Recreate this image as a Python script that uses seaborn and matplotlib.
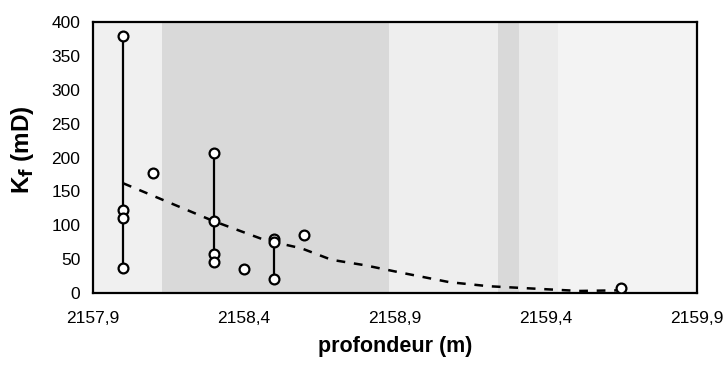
import numpy as np
import pandas as pd
import matplotlib
matplotlib.use("Agg")
import matplotlib.pyplot as plt
import seaborn as sns

# --- data ---
depth = [2158.0, 2158.0, 2158.0, 2158.0, 2158.1,
         2158.3, 2158.3, 2158.3, 2158.3, 2158.4,
         2158.5, 2158.5, 2158.5, 2158.6, 2159.65]
kf = [380, 122, 110, 37, 177,
      207, 107, 57, 46, 35,
      80, 75, 20, 85, 7]

trend_depth = [2158.0, 2158.3, 2158.47, 2158.59, 2158.69, 2158.80,
               2158.92, 2159.08, 2159.21, 2159.38, 2159.51, 2159.65]
trend_kf = [162, 106, 78, 66, 49, 41, 30, 16, 10, 6, 3, 4]

# background facies bands (start, end, colour)
band_edges = [2157.9, 2158.13, 2158.88, 2159.24, 2159.31, 2159.44, 2159.9]
band_colors = ["#f0f0f0", "#d9d9d9", "#eeeeee", "#d9d9d9", "#ebebeb", "#f3f3f3"]

xticks = [2157.9, 2158.4, 2158.9, 2159.4, 2159.9]
xtick_labels = ["2157,9", "2158,4", "2158,9", "2159,4", "2159,9"]
yticks = [0, 50, 100, 150, 200, 250, 300, 350, 400]

df = pd.DataFrame({"depth": depth, "kf": kf})
trend = pd.DataFrame({"depth": trend_depth, "kf": trend_kf})

sns.set_style("white")
plt.rcParams["font.family"] = ["Liberation Sans", "DejaVu Sans"]

fig = plt.figure(figsize=(7.23, 3.74), dpi=100)
ax = fig.add_axes([0.1286, 0.2166, 0.964 - 0.1286, 0.941 - 0.2166])

for (x0, x1), c in zip(zip(band_edges[:-1], band_edges[1:]), band_colors):
    ax.axvspan(x0, x1, color=c, lw=0, zorder=0)

# vertical range bars joining repeated samples at a depth
rng = df.groupby("depth")["kf"].agg(["min", "max"]).reset_index()
rng = rng[rng["min"] < rng["max"]]
ax.vlines(rng["depth"], rng["min"], rng["max"], color="black", lw=1.6, zorder=2)

sns.lineplot(data=trend, x="depth", y="kf", ax=ax, color="black", lw=1.8,
             linestyle=(0, (3.5, 3.5)), sort=False, estimator=None, zorder=3)

sns.scatterplot(data=df, x="depth", y="kf", ax=ax, s=50, color="white",
                edgecolor="black", linewidth=1.6, zorder=4)

ax.set_xlim(2157.9, 2159.9)
ax.set_ylim(0, 400)
ax.set_xticks(xticks)
ax.set_xticklabels(xtick_labels)
ax.set_yticks(yticks)
ax.tick_params(direction="in", length=5, width=1, colors="black", labelsize=12.5)
ax.tick_params(axis="x", pad=13)
ax.tick_params(axis="y", pad=9)

for s in ax.spines.values():
    s.set_visible(True)
    s.set_color("black")
    s.set_linewidth(1.6)

ax.set_xlabel("profondeur (m)", fontsize=15.5, fontweight="bold", labelpad=7,
              color="black")
ax.set_ylabel(r"K$_\mathbf{f}$ (mD)", fontsize=17.5, fontweight="bold",
              color="black")
ax.yaxis.set_label_coords(-0.094, 0.53)

fig.savefig("out.png", dpi=100)
